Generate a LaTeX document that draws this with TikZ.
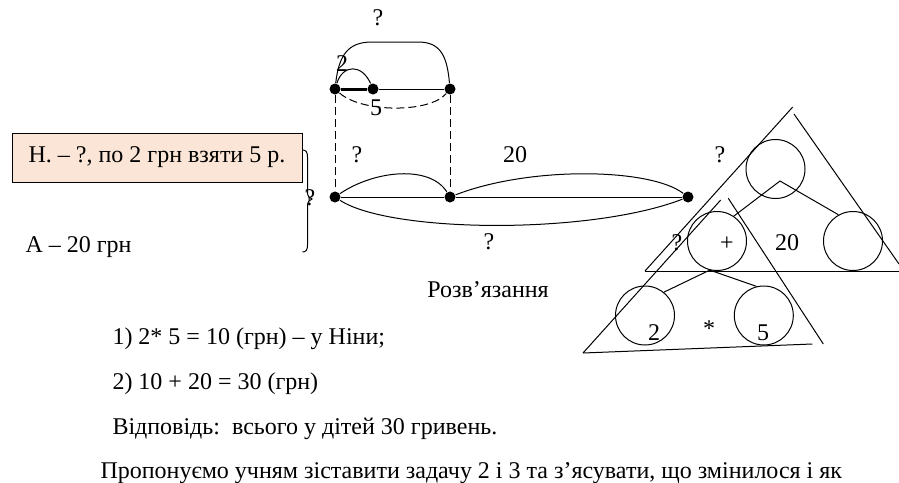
\documentclass[tikz,border=0pt]{standalone}
\usepackage{fontspec}
\setmainfont{Liberation Serif}
\usetikzlibrary{positioning}

\definecolor{pfirsich}{HTML}{FBE5D6}

\tikzset{
  punkt/.style={circle,fill,inner sep=0pt,minimum size=11pt},
  kreis/.style={circle,draw,inner sep=0pt,minimum size=59pt},
  txt/.style={inner sep=0pt,font=\fontsize{24}{28}\selectfont},
  zeile/.style={txt,anchor=base west},
  strich/.style={dash pattern=on 8pt off 4pt},
}

\begin{document}
\begin{tikzpicture}[x=1pt,y=-1pt,line width=1pt]
  \useasboundingbox (0,0) rectangle (899,482);

  % Bedingung
  \node[txt,draw,fill=pfirsich,minimum width=290pt,minimum height=49pt] (bed) at (157,157.5) {Н. – ?, по 2 грн взяти 5 р.};
  \node[zeile] (anna) at (25,252) {А – 20 грн};

  % Klammer
  \draw (302.5,150) .. controls (306,150) and (307.5,152) .. (307.5,157) -- (307.5,192)
        .. controls (307.5,196) and (309,198) .. (312,199)
        .. controls (309,200) and (307.5,202) .. (307.5,206) -- (307.5,245)
        .. controls (307.5,250) and (306,252) .. (302.5,252);
  \node[txt] (qsum) at (310,198) {?};

  % Punkte oben
  \node[punkt] (a1) at (335,89) {};
  \node[punkt] (b1) at (373,89) {};
  \node[punkt] (c1) at (450,89) {};

  % Punkte unten
  \node[punkt] (a2) at (335,197) {};
  \node[punkt] (b2) at (450,197) {};
  \node[punkt] (c2) at (688,197) {};

  % Strecken oben
  \draw[line width=3pt] (a1) -- (b1);
  \draw (b1) -- (c1);
  \draw (a1) .. controls (343,64) and (362,64) .. (b1);
  \draw (a1) .. controls (339,55) and (348,42) .. (372,42) -- (418,42)
        .. controls (440,42) and (447,55) .. (c1);
  \draw[strich] (a1) .. controls (362,113) and (430,113) .. (c1);
  \node[txt] (qoben) at (378,18) {?};
  \node[txt] (zwei) at (342,64) {2};
  \node[txt] (fuenf) at (376,108) {5};

  % Verbindung
  \draw[strich] (a1) -- (a2);
  \draw[strich] (c1) -- (b2);

  % Strecken unten
  \draw (a2) -- (b2) -- (c2);
  \draw (a2) .. controls (375,170) and (430,165) .. (b2);
  \draw (b2) .. controls (530,166) and (650,168) .. (c2);
  \draw (a2) .. controls (390,233) and (590,235) .. (c2);
  \node[txt] (qnina) at (357,155) {?};
  \node[txt] (zwanzig) at (515,155) {20};
  \node[txt] (qalle) at (489,242) {?};

  % Dreieck gross
  \draw (645,271) -- (792.7,107);
  \draw (794,114) -- (899,264);
  \draw (645,271) -- (899,271);
  \node[kreis] (koben) at (775.5,169) {};
  \node[kreis] (kplus) at (717,241) {};
  \node[kreis] (krechts) at (853,241) {};
  \coordinate (voben) at (780,181);
  \draw (kplus.56) -- (voben) -- (krechts.119);
  \node[txt] (qdrei) at (720,155) {?};
  \node[txt] (qplus) at (677,243) {?};
  \node[txt] (plus) at (727,244) {+};
  \node[txt] (zdrei) at (787,243) {20};

  % Dreieck klein
  \draw (583,353) -- (720.7,200);
  \draw (728.3,198.3) -- (823.3,344);
  \draw (583,353) -- (812.3,344);
  \node[kreis] (kzwei) at (645,315.5) {};
  \node[kreis] (kfuenf) at (763.8,315.5) {};
  \draw (kzwei.51) -- (kplus.256) -- (kfuenf.104);
  \node[txt] (zzwei) at (654,333) {2};
  \node[txt] (mal) at (709,328.6) {*};
  \node[txt] (zfuenf) at (763,333) {5};

  % Loesung
  \node[txt,anchor=base] (loes) at (488,297) {Розв’язання};
  \node[zeile] (s1) at (112,344) {1) 2* 5 = 10 (грн) – у Ніни;};
  \node[zeile] (s2) at (112,389) {2) 10 + 20 = 30 (грн)};
  \node[zeile] (s3) at (112,434) {Відповідь:\ \ всього у дітей 30 гривень.};
  \node[zeile] (s4) at (100,478) {Пропонуємо учням зіставити задачу 2 і 3 та з’ясувати, що змінилося і як};
\end{tikzpicture}
\end{document}
